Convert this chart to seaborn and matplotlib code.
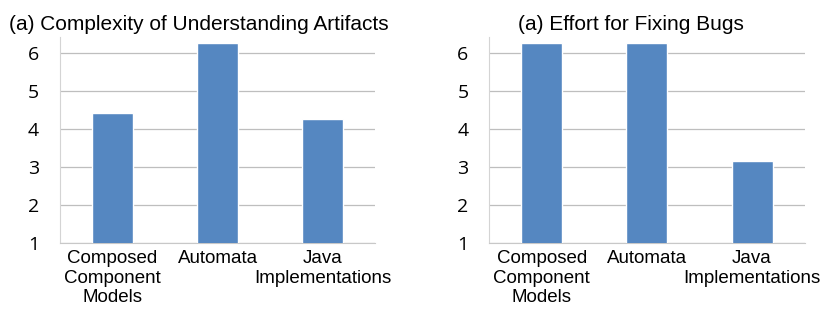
import pandas as pd
import matplotlib.pyplot as plt
import seaborn as sns

# categories and mean ratings
categories = ["Composed\nComponent\nModels", "Automata", "Java\nImplementations"]
complexity = [4.42, 6.27, 4.27]
effort = [6.27, 6.27, 3.15]
titles = ["(a) Complexity of Understanding Artifacts", "(a) Effort for Fixing Bugs"]

sns.set_style("white")
plt.rcParams['font.family'] = ['Liberation Sans', 'DejaVu Sans']
plt.rcParams['text.color'] = 'black'

fig = plt.figure(figsize=(8.21, 3.14), dpi=100)
ax1 = fig.add_axes([0.073, 0.226, 0.384, 0.656])
ax2 = fig.add_axes([0.596, 0.226, 0.384, 0.656])

for ax, vals, title in zip([ax1, ax2], [complexity, effort], titles):
    df = pd.DataFrame({"cat": categories, "val": vals})
    sns.barplot(data=df, x="cat", y="val", ax=ax, color="#5587C1",
                saturation=1, width=0.39, zorder=3)
    ax.set_ylim(1, 6.42)
    ax.set_xlim(-0.5, 2.5)
    ax.set_yticks([1, 2, 3, 4, 5, 6])
    ax.yaxis.grid(True, color="#BEBEBE", linewidth=0.9, zorder=0)
    ax.set_axisbelow(True)
    ax.set_xlabel("")
    ax.set_ylabel("")
    for s in ["top", "right"]:
        ax.spines[s].set_visible(False)
    ax.spines["left"].set_color("#D4D4D4")
    ax.spines["bottom"].set_color("#C8C8C8")
    ax.tick_params(axis="x", length=0, pad=5, labelcolor="black")
    ax.tick_params(axis="y", length=7, width=0.9, color="#BEBEBE", pad=8,
                   labelcolor="black")
    for lab in ax.get_yticklabels():
        lab.set_fontfamily("Open Sans")
        lab.set_fontsize(14)
    for lab in ax.get_xticklabels():
        lab.set_fontsize(13.5)
        lab.set_linespacing(1.2)

ax1.set_title(titles[0], fontsize=15, x=0.44, pad=5, color="black")
ax2.set_title(titles[1], fontsize=15, x=0.45, pad=5, color="black")

fig.savefig("out.png", dpi=100)
